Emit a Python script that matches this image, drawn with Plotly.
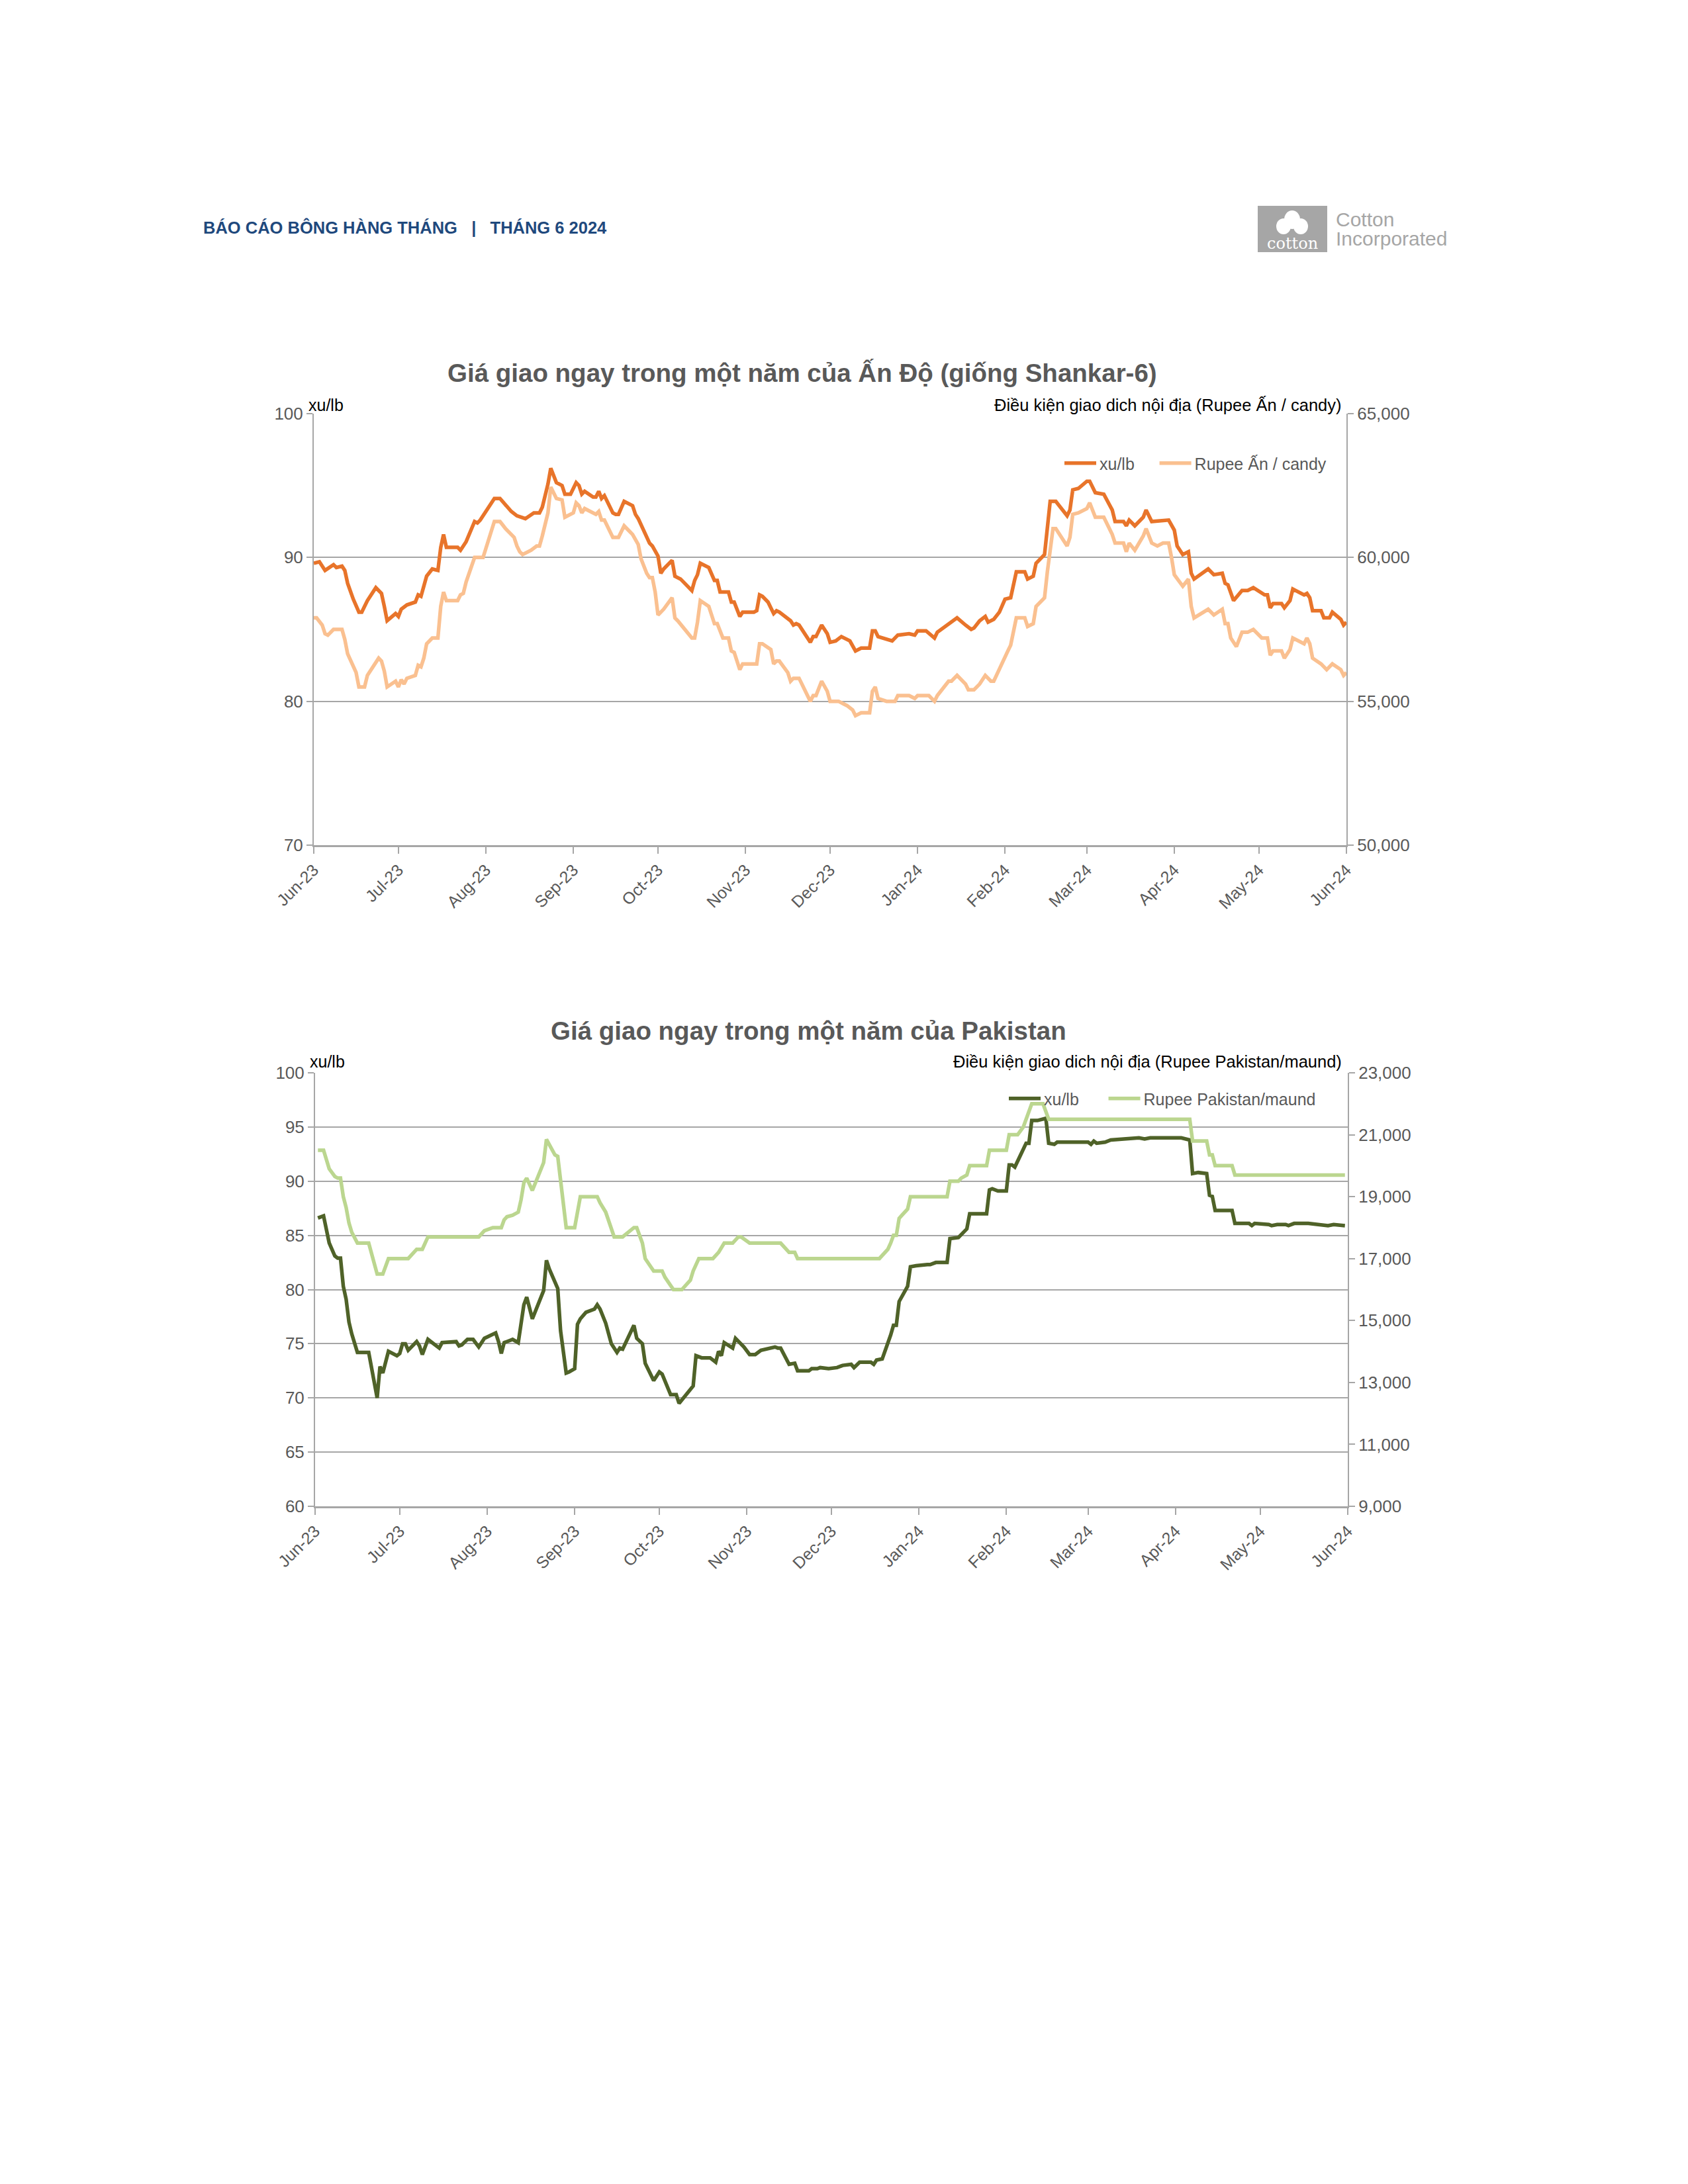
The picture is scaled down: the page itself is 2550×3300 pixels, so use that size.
import plotly.graph_objects as go

# ---------------- DATA ----------------
month_ticks = ["2023-06-01", "2023-07-01", "2023-08-01", "2023-09-01", "2023-10-01", "2023-11-01",
               "2023-12-01", "2024-01-01", "2024-02-01", "2024-03-01", "2024-04-01", "2024-05-01", "2024-06-01"]
month_labels = ["Jun-23", "Jul-23", "Aug-23", "Sep-23", "Oct-23", "Nov-23", "Dec-23",
                "Jan-24", "Feb-24", "Mar-24", "Apr-24", "May-24", "Jun-24"]

india_usc_dates = [
    "2023-06-01", "2023-06-03", "2023-06-05", "2023-06-08", "2023-06-09", "2023-06-11", "2023-06-12", "2023-06-13",
    "2023-06-15", "2023-06-17", "2023-06-18", "2023-06-20", "2023-06-23", "2023-06-25", "2023-06-26", "2023-06-27",
    "2023-06-30", "2023-07-01", "2023-07-02", "2023-07-04", "2023-07-07", "2023-07-08", "2023-07-09", "2023-07-11",
    "2023-07-13", "2023-07-15", "2023-07-16", "2023-07-17", "2023-07-18", "2023-07-22", "2023-07-23", "2023-07-25",
    "2023-07-28", "2023-07-29", "2023-07-30", "2023-07-31", "2023-08-04", "2023-08-06", "2023-08-08", "2023-08-10",
    "2023-08-12", "2023-08-14", "2023-08-15", "2023-08-18", "2023-08-20", "2023-08-21", "2023-08-22", "2023-08-23",
    "2023-08-24", "2023-08-26", "2023-08-28", "2023-08-29", "2023-08-31", "2023-09-02", "2023-09-03", "2023-09-04",
    "2023-09-05", "2023-09-08", "2023-09-09", "2023-09-10", "2023-09-11", "2023-09-12", "2023-09-15", "2023-09-16",
    "2023-09-17", "2023-09-19", "2023-09-22", "2023-09-23", "2023-09-24", "2023-09-26", "2023-09-28", "2023-09-29",
    "2023-10-01", "2023-10-02", "2023-10-03", "2023-10-06", "2023-10-07", "2023-10-09", "2023-10-13", "2023-10-14",
    "2023-10-15", "2023-10-16", "2023-10-19", "2023-10-21", "2023-10-22", "2023-10-23", "2023-10-26", "2023-10-27",
    "2023-10-28", "2023-10-30", "2023-10-31", "2023-11-04", "2023-11-05", "2023-11-06", "2023-11-07", "2023-11-09",
    "2023-11-11", "2023-11-12", "2023-11-13", "2023-11-17", "2023-11-18", "2023-11-19", "2023-11-20", "2023-11-24",
    "2023-11-25", "2023-11-26", "2023-11-28", "2023-11-30", "2023-12-01", "2023-12-03", "2023-12-05", "2023-12-08",
    "2023-12-10", "2023-12-12", "2023-12-15", "2023-12-16", "2023-12-17", "2023-12-18", "2023-12-23", "2023-12-25",
    "2023-12-29", "2023-12-31", "2024-01-01", "2024-01-04", "2024-01-07", "2024-01-08", "2024-01-12", "2024-01-13",
    "2024-01-15", "2024-01-18", "2024-01-20", "2024-01-21", "2024-01-23", "2024-01-25", "2024-01-26", "2024-01-28",
    "2024-01-30", "2024-02-01", "2024-02-03", "2024-02-05", "2024-02-08", "2024-02-09", "2024-02-11", "2024-02-12",
    "2024-02-15", "2024-02-17", "2024-02-19", "2024-02-23", "2024-02-24", "2024-02-25", "2024-02-27", "2024-03-01",
    "2024-03-02", "2024-03-04", "2024-03-07", "2024-03-10", "2024-03-11", "2024-03-14", "2024-03-15", "2024-03-16",
    "2024-03-18", "2024-03-21", "2024-03-22", "2024-03-24", "2024-03-28", "2024-03-30", "2024-04-01", "2024-04-02",
    "2024-04-04", "2024-04-06", "2024-04-07", "2024-04-08", "2024-04-13", "2024-04-15", "2024-04-18", "2024-04-19",
    "2024-04-20", "2024-04-22", "2024-04-25", "2024-04-27", "2024-04-29", "2024-05-03", "2024-05-04", "2024-05-05",
    "2024-05-06", "2024-05-09", "2024-05-10", "2024-05-12", "2024-05-13", "2024-05-17", "2024-05-18", "2024-05-19",
    "2024-05-20", "2024-05-23", "2024-05-24", "2024-05-26", "2024-05-27", "2024-05-30", "2024-05-31", "2024-06-01"]
india_usc = [
    89.6, 89.7, 89.1, 89.5, 89.3, 89.4, 89.1, 88.2, 87.1, 86.2, 86.2, 87.0, 87.9, 87.5, 86.6, 85.6,
    86.1, 85.9, 86.4, 86.7, 86.9, 87.4, 87.3, 88.7, 89.2, 89.1, 90.7, 91.6, 90.7, 90.7, 90.5, 91.1,
    92.5, 92.4, 92.6, 92.9, 94.1, 94.1, 93.6, 93.2, 92.9, 92.8, 92.7, 93.1, 93.1, 93.5, 94.3, 95.1,
    96.2, 95.2, 95.0, 94.4, 94.4, 95.2, 95.0, 94.4, 94.6, 94.2, 94.2, 94.6, 94.1, 94.3, 93.1, 93.0,
    93.0, 93.9, 93.6, 93.0, 92.7, 91.9, 91.0, 90.8, 90.1, 88.9, 89.2, 89.8, 88.7, 88.5, 87.7, 88.4,
    88.8, 89.6, 89.3, 88.4, 88.4, 87.6, 87.6, 86.9, 86.9, 85.9, 86.2, 86.2, 86.3, 87.4, 87.3, 86.9,
    86.1, 86.3, 86.2, 85.6, 85.3, 85.4, 85.3, 84.1, 84.5, 84.5, 85.3, 84.7, 84.1, 84.2, 84.5, 84.2,
    83.5, 83.7, 83.7, 84.9, 84.9, 84.5, 84.2, 84.6, 84.7, 84.6, 84.9, 84.9, 84.4, 84.8, 85.4, 85.5,
    85.8, 85.3, 85.0, 85.1, 85.6, 85.9, 85.5, 85.7, 86.2, 87.1, 87.2, 89.0, 89.0, 88.5, 88.7, 89.6,
    90.2, 93.9, 93.9, 92.9, 93.3, 94.7, 94.8, 95.3, 95.3, 94.5, 94.4, 93.3, 92.5, 92.5, 92.2, 92.6,
    92.2, 92.8, 93.3, 92.5, 92.6, 92.6, 91.9, 90.8, 90.2, 90.4, 88.9, 88.5, 89.2, 88.8, 88.9, 88.2,
    88.1, 87.0, 87.7, 87.7, 87.9, 87.4, 87.4, 86.5, 86.8, 86.8, 86.5, 87.0, 87.8, 87.4, 87.5, 87.2,
    86.3, 86.3, 85.8, 85.8, 86.2, 85.7, 85.3, 85.5]

india_rupee_dates = [
    "2023-06-01", "2023-06-02", "2023-06-04", "2023-06-05", "2023-06-06", "2023-06-08", "2023-06-11", "2023-06-12",
    "2023-06-13", "2023-06-16", "2023-06-17", "2023-06-19", "2023-06-20", "2023-06-24", "2023-06-25", "2023-06-26",
    "2023-06-27", "2023-06-30", "2023-07-01", "2023-07-02", "2023-07-03", "2023-07-04", "2023-07-07", "2023-07-08",
    "2023-07-09", "2023-07-10", "2023-07-11", "2023-07-13", "2023-07-15", "2023-07-16", "2023-07-17", "2023-07-18",
    "2023-07-22", "2023-07-23", "2023-07-24", "2023-07-25", "2023-07-28", "2023-07-31", "2023-08-04", "2023-08-06",
    "2023-08-08", "2023-08-11", "2023-08-12", "2023-08-13", "2023-08-14", "2023-08-17", "2023-08-19", "2023-08-20",
    "2023-08-21", "2023-08-23", "2023-08-24", "2023-08-26", "2023-08-28", "2023-08-29", "2023-09-01", "2023-09-02",
    "2023-09-03", "2023-09-04", "2023-09-05", "2023-09-08", "2023-09-09", "2023-09-10", "2023-09-11", "2023-09-12",
    "2023-09-15", "2023-09-17", "2023-09-19", "2023-09-21", "2023-09-22", "2023-09-24", "2023-09-25", "2023-09-27",
    "2023-09-28", "2023-09-29", "2023-09-30", "2023-10-01", "2023-10-03", "2023-10-06", "2023-10-07", "2023-10-08",
    "2023-10-13", "2023-10-14", "2023-10-15", "2023-10-16", "2023-10-19", "2023-10-21", "2023-10-22", "2023-10-24",
    "2023-10-26", "2023-10-27", "2023-10-28", "2023-10-30", "2023-10-31", "2023-11-05", "2023-11-06", "2023-11-07",
    "2023-11-10", "2023-11-11", "2023-11-12", "2023-11-13", "2023-11-16", "2023-11-17", "2023-11-18", "2023-11-20",
    "2023-11-24", "2023-11-25", "2023-11-26", "2023-11-28", "2023-11-30", "2023-12-01", "2023-12-04", "2023-12-07",
    "2023-12-09", "2023-12-10", "2023-12-12", "2023-12-15", "2023-12-16", "2023-12-17", "2023-12-18", "2023-12-21",
    "2023-12-24", "2023-12-25", "2023-12-29", "2023-12-31", "2024-01-01", "2024-01-05", "2024-01-07", "2024-01-08",
    "2024-01-12", "2024-01-13", "2024-01-15", "2024-01-18", "2024-01-19", "2024-01-21", "2024-01-23", "2024-01-25",
    "2024-01-27", "2024-01-28", "2024-01-30", "2024-02-02", "2024-02-03", "2024-02-05", "2024-02-08", "2024-02-09",
    "2024-02-11", "2024-02-12", "2024-02-15", "2024-02-16", "2024-02-18", "2024-02-19", "2024-02-23", "2024-02-24",
    "2024-02-25", "2024-02-27", "2024-03-01", "2024-03-02", "2024-03-04", "2024-03-07", "2024-03-10", "2024-03-11",
    "2024-03-14", "2024-03-15", "2024-03-16", "2024-03-18", "2024-03-21", "2024-03-22", "2024-03-24", "2024-03-26",
    "2024-03-28", "2024-03-30", "2024-03-31", "2024-04-01", "2024-04-04", "2024-04-06", "2024-04-07", "2024-04-08",
    "2024-04-13", "2024-04-15", "2024-04-18", "2024-04-19", "2024-04-20", "2024-04-21", "2024-04-23", "2024-04-25",
    "2024-04-27", "2024-04-29", "2024-05-02", "2024-05-04", "2024-05-05", "2024-05-06", "2024-05-09", "2024-05-10",
    "2024-05-12", "2024-05-13", "2024-05-17", "2024-05-18", "2024-05-19", "2024-05-20", "2024-05-23", "2024-05-25",
    "2024-05-27", "2024-05-30", "2024-05-31", "2024-06-01"]
india_rupee = [
    57900, 57900, 57650, 57350, 57300, 57500, 57500, 57150, 56650, 56000, 55500, 55500, 55900, 56500, 56400, 56050,
    55500, 55700, 55500, 55750, 55600, 55800, 55900, 56250, 56200, 56500, 57000, 57200, 57200, 58300, 58800, 58500,
    58500, 58700, 58750, 59150, 60000, 60000, 61250, 61250, 61000, 60700, 60400, 60200, 60100, 60250, 60400, 60400,
    60750, 61550, 62450, 62050, 62000, 61400, 61550, 61900, 61800, 61550, 61700, 61550, 61500, 61600, 61300, 61300,
    60700, 60700, 61100, 60900, 60800, 60450, 59950, 59450, 59300, 59300, 58800, 58000, 58200, 58600, 57900, 57800,
    57200, 57200, 57750, 58500, 58300, 57700, 57700, 57200, 57200, 56750, 56700, 56100, 56300, 56300, 57000, 57000,
    56800, 56300, 56400, 56400, 56000, 55700, 55800, 55800, 55000, 55200, 55200, 55700, 55350, 55000, 55000, 54850,
    54700, 54500, 54600, 54600, 55350, 55500, 55100, 55000, 55000, 55200, 55200, 55100, 55200, 55200, 55000, 55200,
    55700, 55700, 55900, 55600, 55400, 55400, 55600, 55900, 55700, 55700, 56150, 56750, 56950, 57900, 57900, 57600,
    57700, 58300, 58600, 59500, 61000, 61000, 60400, 60700, 61500, 61550, 61700, 61900, 61400, 61400, 60800, 60500,
    60500, 60200, 60500, 60250, 60750, 61000, 60500, 60400, 60500, 60500, 60000, 59400, 59000, 59250, 58300, 57900,
    58200, 58000, 58200, 57700, 57700, 57200, 56900, 57400, 57400, 57500, 57200, 57200, 56600, 56750, 56750, 56500,
    56800, 57200, 57000, 57200, 57000, 56500, 56300, 56100, 56300, 56100, 55900, 56000]

pak_usc_dates = [
    "2023-06-02", "2023-06-04", "2023-06-06", "2023-06-08", "2023-06-09", "2023-06-10", "2023-06-11", "2023-06-12",
    "2023-06-13", "2023-06-14", "2023-06-16", "2023-06-20", "2023-06-23", "2023-06-24", "2023-06-25", "2023-06-27",
    "2023-06-30", "2023-07-01", "2023-07-02", "2023-07-03", "2023-07-04", "2023-07-07", "2023-07-08", "2023-07-09",
    "2023-07-11", "2023-07-15", "2023-07-16", "2023-07-21", "2023-07-22", "2023-07-23", "2023-07-25", "2023-07-27",
    "2023-07-29", "2023-07-31", "2023-08-04", "2023-08-05", "2023-08-06", "2023-08-07", "2023-08-09", "2023-08-10",
    "2023-08-12", "2023-08-13", "2023-08-14", "2023-08-15", "2023-08-17", "2023-08-21", "2023-08-22", "2023-08-23",
    "2023-08-26", "2023-08-27", "2023-08-29", "2023-08-30", "2023-09-01", "2023-09-02", "2023-09-03", "2023-09-05",
    "2023-09-08", "2023-09-09", "2023-09-10", "2023-09-12", "2023-09-14", "2023-09-16", "2023-09-17", "2023-09-18",
    "2023-09-22", "2023-09-23", "2023-09-25", "2023-09-26", "2023-09-29", "2023-10-01", "2023-10-02", "2023-10-05",
    "2023-10-07", "2023-10-08", "2023-10-09", "2023-10-13", "2023-10-14", "2023-10-16", "2023-10-19", "2023-10-21",
    "2023-10-22", "2023-10-23", "2023-10-24", "2023-10-27", "2023-10-28", "2023-10-30", "2023-10-31", "2023-11-02",
    "2023-11-04", "2023-11-06", "2023-11-11", "2023-11-12", "2023-11-13", "2023-11-16", "2023-11-18", "2023-11-19",
    "2023-11-23", "2023-11-24", "2023-11-26", "2023-11-27", "2023-11-30", "2023-12-03", "2023-12-05", "2023-12-08",
    "2023-12-09", "2023-12-11", "2023-12-15", "2023-12-16", "2023-12-17", "2023-12-19", "2023-12-21", "2023-12-22",
    "2023-12-23", "2023-12-24", "2023-12-25", "2023-12-28", "2023-12-29", "2023-12-31", "2024-01-04", "2024-01-05",
    "2024-01-07", "2024-01-11", "2024-01-12", "2024-01-15", "2024-01-18", "2024-01-19", "2024-01-25", "2024-01-26",
    "2024-01-27", "2024-01-29", "2024-02-01", "2024-02-02", "2024-02-03", "2024-02-04", "2024-02-06", "2024-02-08",
    "2024-02-09", "2024-02-10", "2024-02-12", "2024-02-15", "2024-02-16", "2024-02-18", "2024-02-19", "2024-02-24",
    "2024-03-01", "2024-03-02", "2024-03-03", "2024-03-04", "2024-03-07", "2024-03-09", "2024-03-14", "2024-03-17",
    "2024-03-19", "2024-03-21", "2024-03-23", "2024-03-29", "2024-04-03", "2024-04-06", "2024-04-07", "2024-04-09",
    "2024-04-12", "2024-04-13", "2024-04-14", "2024-04-15", "2024-04-21", "2024-04-22", "2024-04-27", "2024-04-28",
    "2024-04-29", "2024-05-04", "2024-05-05", "2024-05-07", "2024-05-10", "2024-05-11", "2024-05-13", "2024-05-18",
    "2024-05-21", "2024-05-25", "2024-05-27", "2024-05-31"]
pak_usc = [
    86.6, 86.8, 84.3, 83.1, 82.9, 82.9, 80.3, 79.1, 77.0, 75.9, 74.2, 74.2, 70.0, 72.9, 72.3, 74.3,
    73.9, 74.1, 75.0, 75.0, 74.4, 75.2, 74.8, 74.0, 75.4, 74.6, 75.1, 75.2, 74.8, 74.9, 75.4, 75.4,
    74.7, 75.5, 76.0, 75.2, 74.1, 75.1, 75.3, 75.4, 75.1, 77.0, 78.6, 79.3, 77.3, 79.9, 82.7, 81.9,
    80.1, 76.2, 72.3, 72.4, 72.7, 76.8, 77.3, 77.9, 78.2, 78.6, 78.2, 76.9, 75.0, 74.2, 74.6, 74.5,
    76.7, 75.5, 75.0, 73.2, 71.6, 72.4, 72.2, 70.3, 70.3, 69.5, 69.8, 71.1, 73.9, 73.7, 73.7, 73.3,
    74.3, 73.9, 75.1, 74.6, 75.5, 75.0, 74.7, 74.0, 74.0, 74.4, 74.7, 74.6, 74.6, 73.1, 73.2, 72.5,
    72.5, 72.7, 72.7, 72.8, 72.7, 72.8, 73.0, 73.1, 72.8, 73.3, 73.3, 73.1, 73.5, 73.6, 75.0, 75.8,
    76.7, 76.7, 78.9, 80.3, 82.1, 82.2, 82.3, 82.3, 82.5, 82.5, 84.7, 84.8, 85.6, 87.0, 87.0, 89.2,
    89.3, 89.1, 89.1, 91.5, 91.5, 91.3, 92.4, 93.5, 93.5, 95.6, 95.6, 95.8, 93.5, 93.4, 93.6, 93.6,
    93.6, 93.4, 93.7, 93.5, 93.6, 93.8, 93.9, 94.0, 94.0, 93.9, 94.0, 94.0, 94.0, 93.8, 90.7, 90.8,
    90.7, 88.7, 88.6, 87.3, 87.3, 86.1, 86.1, 85.9, 86.1, 86.0, 85.9, 86.0, 86.0, 85.9, 86.1, 86.1,
    86.0, 85.9, 86.0, 85.9]

pak_rupee_dates = [
    "2023-06-02", "2023-06-04", "2023-06-06", "2023-06-08", "2023-06-09", "2023-06-10", "2023-06-11", "2023-06-12",
    "2023-06-13", "2023-06-14", "2023-06-16", "2023-06-20", "2023-06-23", "2023-06-25", "2023-06-27", "2023-07-04",
    "2023-07-07", "2023-07-09", "2023-07-11", "2023-07-29", "2023-07-31", "2023-08-03", "2023-08-06", "2023-08-07",
    "2023-08-08", "2023-08-10", "2023-08-12", "2023-08-13", "2023-08-14", "2023-08-15", "2023-08-17", "2023-08-21",
    "2023-08-22", "2023-08-25", "2023-08-26", "2023-08-27", "2023-08-29", "2023-09-01", "2023-09-03", "2023-09-09",
    "2023-09-10", "2023-09-12", "2023-09-15", "2023-09-18", "2023-09-22", "2023-09-23", "2023-09-24", "2023-09-25",
    "2023-09-26", "2023-09-29", "2023-10-02", "2023-10-03", "2023-10-06", "2023-10-09", "2023-10-12", "2023-10-13",
    "2023-10-15", "2023-10-20", "2023-10-22", "2023-10-24", "2023-10-27", "2023-10-29", "2023-10-30", "2023-11-02",
    "2023-11-13", "2023-11-16", "2023-11-18", "2023-11-19", "2023-12-18", "2023-12-21", "2023-12-22", "2023-12-23",
    "2023-12-24", "2023-12-25", "2023-12-26", "2023-12-28", "2023-12-29", "2024-01-11", "2024-01-12", "2024-01-15",
    "2024-01-16", "2024-01-18", "2024-01-19", "2024-01-25", "2024-01-26", "2024-02-01", "2024-02-02", "2024-02-05",
    "2024-02-07", "2024-02-08", "2024-02-10", "2024-02-14", "2024-02-15", "2024-02-16", "2024-04-06", "2024-04-07",
    "2024-04-12", "2024-04-13", "2024-04-14", "2024-04-15", "2024-04-21", "2024-04-22", "2024-05-31"]
pak_rupee = [
    20500, 20500, 19900, 19650, 19600, 19600, 19000, 18650, 18150, 17850, 17500, 17500, 16500, 16500, 17000, 17000,
    17300, 17300, 17700, 17700, 17900, 18000, 18000, 18250, 18350, 18400, 18500, 18900, 19450, 19600, 19200, 20100,
    20850, 20350, 20300, 19550, 18000, 18000, 19000, 19000, 18800, 18500, 17700, 17700, 18000, 18000, 17750, 17500,
    17000, 16600, 16600, 16400, 16000, 16000, 16300, 16600, 17000, 17000, 17200, 17500, 17500, 17700, 17700, 17500,
    17500, 17200, 17200, 17000, 17000, 17300, 17500, 17750, 17750, 18300, 18400, 18600, 19000, 19000, 19500, 19500,
    19600, 19700, 20000, 20000, 20500, 20500, 21000, 21000, 21250, 21500, 22000, 22000, 21700, 21500, 21500, 20800,
    20800, 20350, 20350, 20000, 20000, 19700, 19700]

# ---------------- STYLE / LAYOUT HELPERS ----------------
W, H = 2550, 3300
PAGE_OFFSET = 8  # default body margin of the html page
FONT = "Liberation Sans, Arial, sans-serif"
GREY_TXT = "#595959"
GRID = "#A6A6A6"
NB = "\u00a0"


def px(x):
    return (x - PAGE_OFFSET) / W


def py(y):
    return 1 - (y - PAGE_OFFSET) / H


fig = go.Figure()
fig.add_trace(go.Scatter(x=india_usc_dates, y=india_usc, name="xu/lb" + NB * 4, mode="lines",
                         line=dict(color="#E8742A", width=5.5), xaxis="x", yaxis="y", legend="legend"))
fig.add_trace(go.Scatter(x=india_rupee_dates, y=india_rupee, name="Rupee Ấn / candy", mode="lines",
                         line=dict(color="#FAC090", width=5.5), xaxis="x", yaxis="y2", legend="legend"))
fig.add_trace(go.Scatter(x=pak_usc_dates, y=pak_usc, name="xu/lb" + NB * 5, mode="lines",
                         line=dict(color="#4F6228", width=5.5), xaxis="x2", yaxis="y3", legend="legend2"))
fig.add_trace(go.Scatter(x=pak_rupee_dates, y=pak_rupee, name="Rupee Pakistan/maund", mode="lines",
                         line=dict(color="#BBD68F", width=5.5), xaxis="x2", yaxis="y4", legend="legend2"))

xcommon = dict(type="date", range=["2023-06-01", "2024-06-01"], tickmode="array",
               tickvals=month_ticks, ticktext=month_labels, tickangle=-45,
               tickfont=dict(size=25, color=GREY_TXT, family=FONT),
               showline=True, linecolor=GRID, linewidth=3, ticks="outside", ticklen=10,
               tickcolor=GRID, tickwidth=2, showgrid=False, zeroline=False, fixedrange=True,
               automargin=False)
ycommon = dict(showline=True, linecolor=GRID, linewidth=2, ticks="outside", ticklen=9,
               tickcolor=GRID, tickwidth=2, zeroline=False, automargin=False,
               tickfont=dict(size=26, color=GREY_TXT, family=FONT))

fig.update_layout(
    width=W, height=H, margin=dict(l=0, r=0, t=0, b=0, autoexpand=False),
    paper_bgcolor="white", plot_bgcolor="rgba(0,0,0,0)",
    font=dict(family=FONT, color=GREY_TXT),
    showlegend=True,
    xaxis=dict(domain=[px(474), px(2034)], anchor="y", **xcommon),
    yaxis=dict(domain=[py(1277), py(625)], anchor="x", range=[70, 100], tick0=70, dtick=10,
               showgrid=True, gridcolor=GRID, gridwidth=2, **ycommon),
    yaxis2=dict(overlaying="y", side="right", anchor="x", range=[50000, 65000], tick0=50000, dtick=5000,
                tickformat=",", showgrid=False, **ycommon),
    xaxis2=dict(domain=[px(476), px(2036)], anchor="y3", **xcommon),
    yaxis3=dict(domain=[py(2276), py(1621)], anchor="x2", range=[60, 100], tick0=60, dtick=5,
                showgrid=True, gridcolor=GRID, gridwidth=2, **ycommon),
    yaxis4=dict(overlaying="y3", side="right", anchor="x2", range=[9000, 23000], tick0=9000, dtick=2000,
                tickformat=",", showgrid=False, **ycommon),
    legend=dict(orientation="h", x=px(1603), y=py(700), xanchor="left", yanchor="middle",
                font=dict(size=25, color=GREY_TXT, family=FONT), bgcolor="rgba(0,0,0,0)",
                itemwidth=48, traceorder="normal"),
    legend2=dict(orientation="h", x=px(1519), y=py(1660), xanchor="left", yanchor="middle",
                 font=dict(size=25, color=GREY_TXT, family=FONT), bgcolor="rgba(0,0,0,0)",
                 itemwidth=48, traceorder="normal"),
)

annotations = [
    dict(x=px(305), y=py(344), text="<b>BÁO CÁO BÔNG HÀNG THÁNG" + NB * 3 + "|" + NB * 3 + "THÁNG 6 2024</b>",
         xanchor="left", yanchor="middle", font=dict(size=25.5, color="#1F497D", family=FONT)),
    dict(x=px(1212), y=py(564), text="<b>Giá giao ngay trong một năm của Ấn Độ (giống Shankar-6)</b>",
         xanchor="center", yanchor="middle", font=dict(size=38.5, color=GREY_TXT, family=FONT)),
    dict(x=px(1221), y=py(1557), text="<b>Giá giao ngay trong một năm của Pakistan</b>",
         xanchor="center", yanchor="middle", font=dict(size=38.5, color=GREY_TXT, family=FONT)),
    dict(x=px(464), y=py(612), text="xu/lb", xanchor="left", yanchor="middle",
         font=dict(size=25, color="black", family=FONT)),
    dict(x=px(2028), y=py(612), text="Điều kiện giao dich nội địa (Rupee Ấn / candy)", xanchor="right",
         yanchor="middle", font=dict(size=25.5, color="black", family=FONT)),
    dict(x=px(466), y=py(1604), text="xu/lb", xanchor="left", yanchor="middle",
         font=dict(size=25, color="black", family=FONT)),
    dict(x=px(2029), y=py(1604), text="Điều kiện giao dich nội địa (Rupee Pakistan/maund)", xanchor="right",
         yanchor="middle", font=dict(size=25.5, color="black", family=FONT)),
    # logo texts
    dict(x=px(2016), y=py(331), text="Cotton", xanchor="left", yanchor="middle",
         font=dict(size=30, color="#A6A6A6", family=FONT)),
    dict(x=px(2016), y=py(360), text="Incorporated", xanchor="left", yanchor="middle",
         font=dict(size=30, color="#A6A6A6", family=FONT)),
    dict(x=px(1952), y=py(368), text="cotton", xanchor="center", yanchor="middle",
         font=dict(size=24, color="white", family="DejaVu Serif")),
]
for a in annotations:
    a.update(xref="paper", yref="paper", showarrow=False)
fig.update_layout(annotations=annotations)

shapes = [
    dict(type="rect", x0=px(1900), x1=px(2005), y0=py(381), y1=py(311), fillcolor="#A6A6A6",
         line=dict(width=0)),
    dict(type="circle", x0=px(1940), x1=px(1964), y0=py(346), y1=py(318), fillcolor="white", line=dict(width=0)),
    dict(type="circle", x0=px(1928), x1=px(1950), y0=py(354), y1=py(330), fillcolor="white", line=dict(width=0)),
    dict(type="circle", x0=px(1954), x1=px(1976), y0=py(354), y1=py(330), fillcolor="white", line=dict(width=0)),
]
for s in shapes:
    s.update(xref="paper", yref="paper", layer="above")
fig.update_layout(shapes=shapes)

fig.write_html("out.html")
